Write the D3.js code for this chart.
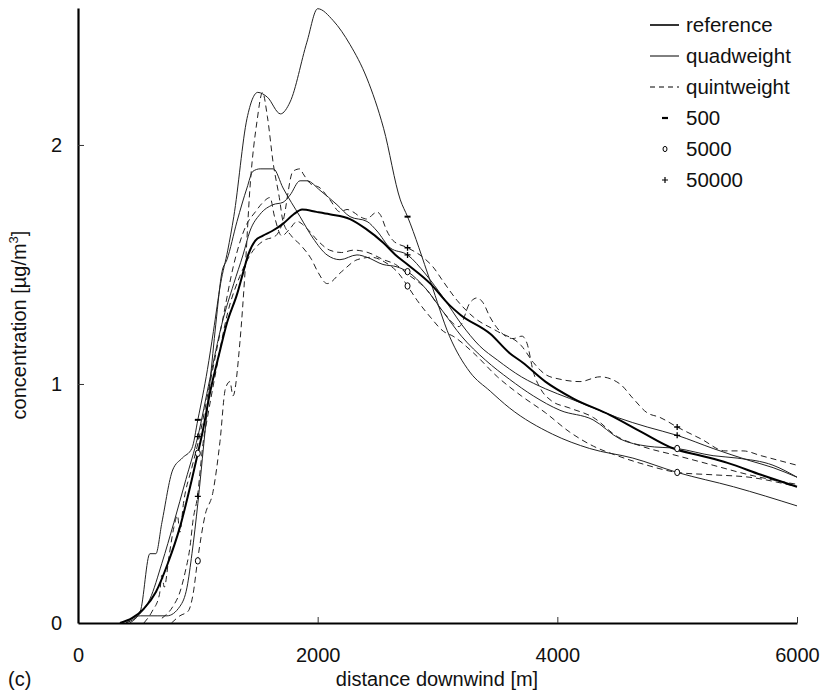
<!DOCTYPE html>
<html>
<head>
<meta charset="utf-8">
<script src="https://cdn.jsdelivr.net/npm/d3@7"></script>
<style>
  body { margin: 0; background: #fff; }
  text { font-family: "Liberation Sans", Arial, sans-serif; fill: #111; }
</style>
</head>
<body>
<div id="root"></div>
<script>
// distance downwind [m] vs concentration [ug/m3]
var reference = [[350,0],[450,0.02],[550,0.06],[650,0.13],[750,0.25],[850,0.40],[950,0.60],[1000,0.71],[1040,0.80],[1100,0.96],[1185,1.14],[1240,1.25],[1330,1.38],[1380,1.47],[1420,1.54],[1480,1.60],[1540,1.62],[1620,1.64],[1710,1.67],[1800,1.71],[1870,1.73],[1990,1.72],[2100,1.71],[2270,1.69],[2400,1.65],[2550,1.59],[2650,1.54],[2750,1.50],[2940,1.42],[3100,1.33],[3190,1.29],[3440,1.21],[3600,1.13],[3710,1.09],[3900,1.01],[4130,0.94],[4440,0.87],[4700,0.80],[4970,0.73],[5200,0.70],[5420,0.67],[5700,0.62],[6000,0.57]];

var quad500 = [[430,0],[520,0.05],[600,0.29],[650,0.29],[700,0.42],[790,0.64],[870,0.69],[950,0.73],[1000,0.85],[1080,1.06],[1130,1.22],[1190,1.42],[1250,1.56],[1300,1.70],[1410,2.11],[1500,2.22],[1580,2.20],[1690,2.13],[1770,2.18],[1910,2.43],[2000,2.57],[2130,2.52],[2270,2.42],[2410,2.28],[2550,2.07],[2690,1.77],[2750,1.70],[2940,1.43],[3100,1.20],[3270,1.05],[3440,0.97],[3600,0.90],[3960,0.79],[4270,0.73],[4630,0.69],[5000,0.63],[5470,0.57],[6000,0.49]];

var quint500 = [[550,0],[620,0.05],[680,0.12],[700,0.2],[720,0.15],[760,0.28],[800,0.4],[830,0.45],[850,0.38],[880,0.5],[950,0.65],[1000,0.75],[1100,1.0],[1200,1.25],[1300,1.5],[1400,1.66],[1480,1.72],[1544,1.76],[1602,1.78],[1640,1.70],[1700,1.62],[1769,1.65],[1827,1.68],[1911,1.65],[2000,1.60],[2100,1.56],[2200,1.55],[2300,1.56],[2420,1.55],[2550,1.52],[2650,1.50],[2750,1.46],[2900,1.40],[3050,1.30],[3180,1.24],[3271,1.34],[3330,1.36],[3380,1.34],[3438,1.28],[3522,1.22],[3630,1.19],[3705,1.20],[3747,1.17],[3800,1.05],[3860,0.98],[3950,0.93],[4100,0.90],[4300,0.86],[4500,0.78],[4700,0.74],[5000,0.70],[5300,0.66],[5600,0.62],[6000,0.58]];

var quad5000 = [[400,0],[520,0.03],[660,0.03],[743,0.03],[851,0.07],[910,0.15],[951,0.29],[1000,0.5],[1050,0.75],[1100,1.0],[1150,1.25],[1202,1.47],[1243,1.52],[1327,1.68],[1410,1.82],[1460,1.89],[1520,1.90],[1630,1.90],[1711,1.82],[1853,1.70],[1961,1.61],[2078,1.54],[2186,1.52],[2328,1.54],[2412,1.53],[2545,1.50],[2662,1.49],[2750,1.47],[2900,1.40],[3050,1.30],[3200,1.20],[3400,1.10],[3600,1.02],[3800,0.95],[4022,0.89],[4298,0.85],[4523,0.77],[4748,0.74],[5000,0.73],[5300,0.70],[5500,0.69],[5800,0.66],[6000,0.61]];

var quint5000 = [[780,0],[850,0.03],[920,0.05],[960,0.12],[1000,0.27],[1060,0.45],[1127,0.55],[1185,0.76],[1230,0.98],[1268,1.01],[1293,0.95],[1352,1.18],[1394,1.47],[1435,1.82],[1494,2.10],[1540,2.22],[1580,2.12],[1630,1.92],[1680,1.78],[1711,1.68],[1780,1.62],[1860,1.58],[1950,1.52],[2000,1.47],[2080,1.42],[2200,1.47],[2330,1.52],[2450,1.53],[2560,1.51],[2680,1.46],[2750,1.41],[2830,1.35],[2940,1.28],[3050,1.22],[3130,1.20],[3300,1.13],[3500,1.03],[3700,0.95],[3900,0.88],[4100,0.80],[4300,0.74],[4500,0.70],[4750,0.66],[5000,0.63],[5300,0.62],[5600,0.61],[6000,0.57]];

var quad50000 = [[400,0],[500,0.03],[600,0.1],[700,0.25],[800,0.42],[900,0.6],[1000,0.78],[1100,1.02],[1200,1.25],[1300,1.42],[1377,1.54],[1435,1.64],[1519,1.71],[1627,1.75],[1711,1.76],[1769,1.79],[1853,1.85],[1911,1.85],[2020,1.81],[2161,1.75],[2270,1.70],[2412,1.68],[2495,1.64],[2604,1.57],[2750,1.54],[2900,1.46],[3050,1.36],[3200,1.25],[3350,1.16],[3500,1.10],[3700,1.03],[3900,0.98],[4100,0.94],[4300,0.90],[4500,0.86],[4750,0.82],[5000,0.785],[5300,0.73],[5600,0.68],[5800,0.65],[6000,0.61]];

var quint50000 = [[700,0.02],[793,0.07],[851,0.13],[893,0.21],[935,0.32],[960,0.43],[1000,0.54],[1020,0.64],[1043,0.75],[1077,0.85],[1150,1.05],[1250,1.30],[1350,1.45],[1450,1.55],[1550,1.60],[1650,1.62],[1710,1.68],[1794,1.89],[1853,1.90],[1878,1.88],[1936,1.84],[2020,1.82],[2103,1.77],[2186,1.72],[2245,1.73],[2295,1.72],[2353,1.70],[2412,1.69],[2462,1.71],[2495,1.72],[2520,1.71],[2578,1.64],[2629,1.60],[2750,1.57],[2879,1.53],[2962,1.49],[3046,1.43],[3163,1.35],[3300,1.28],[3500,1.22],[3700,1.16],[3800,1.09],[3900,1.04],[4022,1.02],[4189,1.01],[4356,1.03],[4523,1.00],[4631,0.94],[4748,0.88],[4857,0.86],[5000,0.82],[5200,0.77],[5400,0.72],[5550,0.72],[5700,0.70],[6000,0.66]];

// sample-size markers sitting on the curves
var marks500 = [[1000,0.85],[2750,1.70]];
var marks5000 = [[1000,0.71],[1000,0.26],[2750,1.47],[2750,1.41],[5000,0.73],[5000,0.63]];
var marks50000 = [[1000,0.78],[1000,0.53],[2750,1.57],[2750,1.54],[5000,0.82],[5000,0.785]];

var xTicks = [0, 2000, 4000, 6000];
var yTicks = [0, 1, 2];
var legendLines = ['reference', 'quadweight', 'quintweight'];
var legendMarks = ['500', '5000', '50000'];

var width = 820, height = 697;

var svg = d3.select('#root')
  .append('svg')
    .attr('width', width)
    .attr('height', height);

var xScale = d3.scaleLinear()
  .domain([0, 6000])
  .range([78, 797]);

var yScale = d3.scaleLinear()
  .domain([0, 2.573])
  .range([623, 8]);

var line = d3.line()
  .x(d => xScale(d[0]))
  .y(d => yScale(d[1]))
  .curve(d3.curveMonotoneX);

var curves = [
  { data: quad500, dash: null },
  { data: quint500, dash: '6,4' },
  { data: quad5000, dash: null },
  { data: quint5000, dash: '6,4' },
  { data: quad50000, dash: null },
  { data: quint50000, dash: '6,4' }
];

svg.selectAll('path.curve')
  .data(curves)
  .enter()
  .append('path')
    .attr('class', 'curve')
    .attr('d', c => line(c.data))
    .attr('fill', 'none')
    .attr('stroke', '#222')
    .attr('stroke-width', 1)
    .attr('stroke-dasharray', c => c.dash);

svg.append('path')
  .attr('d', line(reference))
  .attr('fill', 'none')
  .attr('stroke', '#000')
  .attr('stroke-width', 2);

// markers
var drawMarks = (g, data, kind) => {
  data.forEach(d => {
    var cx = xScale(d[0]), cy = yScale(d[1]);
    if (kind === 'dash') {
      g.append('line')
        .attr('x1', cx - 3).attr('x2', cx + 3)
        .attr('y1', cy).attr('y2', cy)
        .attr('stroke', '#000').attr('stroke-width', 2);
    } else if (kind === 'circle') {
      g.append('ellipse')
        .attr('cx', cx).attr('cy', cy)
        .attr('rx', 2.5).attr('ry', 3.2)
        .attr('fill', '#fff').attr('stroke', '#000').attr('stroke-width', 1);
    } else {
      g.append('path')
        .attr('d', 'M' + (cx - 3) + ',' + cy + 'H' + (cx + 3) + 'M' + cx + ',' + (cy - 3) + 'V' + (cy + 3))
        .attr('stroke', '#000').attr('stroke-width', 1.3);
    }
  });
};

var marks = svg.append('g').attr('class', 'marks');
drawMarks(marks, marks500, 'dash');
drawMarks(marks, marks5000, 'circle');
drawMarks(marks, marks50000, 'plus');

// axes
var xAxisCall = d3.axisBottom(xScale)
  .tickValues(xTicks)
  .tickFormat(d3.format('d'))
  .tickSizeInner(-6)
  .tickSizeOuter(0)
  .tickPadding(25);

var xAxis = svg.append('g')
  .attr('class', 'x-axis')
  .attr('transform', 'translate(0, 623)')
  .call(xAxisCall);

var yAxisCall = d3.axisLeft(yScale)
  .tickValues(yTicks)
  .tickFormat(d3.format('d'))
  .tickSizeInner(-6)
  .tickSizeOuter(0)
  .tickPadding(16);

var yAxis = svg.append('g')
  .attr('class', 'y-axis')
  .attr('transform', 'translate(78, 0)')
  .call(yAxisCall);

[xAxis, yAxis].forEach(a => {
  a.select('.domain').attr('stroke', '#000').attr('stroke-width', 2.2);
  a.selectAll('.tick line').attr('stroke', '#333').attr('stroke-width', 1);
  a.selectAll('.tick text')
    .attr('font-size', '20px')
    .attr('font-family', '"Liberation Sans", Arial, sans-serif')
    .attr('fill', '#111');
});
xAxis.selectAll('.tick').filter(d => d === 0).select('line').remove();
yAxis.selectAll('.tick').filter(d => d === 0).select('line').remove();

svg.append('text')
  .attr('class', 'x-axis-label')
  .attr('x', 437)
  .attr('y', 686)
  .attr('font-size', '20px')
  .attr('text-anchor', 'middle')
  .text('distance downwind [m]');

svg.append('text')
  .attr('x', 8)
  .attr('y', 686)
  .attr('font-size', '20px')
  .text('(c)');

var yLabel = svg.append('text')
  .attr('class', 'y-axis-label')
  .attr('transform', 'translate(26, 325) rotate(-90)')
  .attr('font-size', '20px')
  .attr('text-anchor', 'middle');
yLabel.append('tspan').text('concentration [µg/m');
yLabel.append('tspan').attr('font-size', '13px').attr('dy', -8).text('3');
yLabel.append('tspan').attr('dy', 8).text(']');

// legend
var legend = svg.append('g').attr('class', 'legend');
legendLines.forEach((name, i) => {
  var ly = 25 + i * 31;
  legend.append('line')
    .attr('x1', 650).attr('x2', 679)
    .attr('y1', ly).attr('y2', ly)
    .attr('stroke', '#000')
    .attr('stroke-width', i === 0 ? 1.6 : 1)
    .attr('stroke-dasharray', i === 2 ? '5,4' : null);
  legend.append('text')
    .attr('x', 686).attr('y', ly + 7)
    .attr('font-size', '20.5px')
    .text(name);
});
legendMarks.forEach((name, i) => {
  var ly = 118 + i * 31;
  var g = legend.append('g');
  var kind = ['dash', 'circle', 'plus'][i];
  if (kind === 'dash') {
    g.append('line').attr('x1', 662).attr('x2', 668).attr('y1', ly).attr('y2', ly)
      .attr('stroke', '#000').attr('stroke-width', 2.2);
  } else if (kind === 'circle') {
    g.append('ellipse').attr('cx', 665).attr('cy', ly).attr('rx', 2).attr('ry', 2.6)
      .attr('fill', 'none').attr('stroke', '#000').attr('stroke-width', 1);
  } else {
    g.append('path').attr('d', 'M662,' + ly + 'H668M665,' + (ly - 3) + 'V' + (ly + 3))
      .attr('stroke', '#000').attr('stroke-width', 1.2);
  }
  legend.append('text')
    .attr('x', 686).attr('y', ly + 7)
    .attr('font-size', '20.5px')
    .text(name);
});
</script>
</body>
</html>
